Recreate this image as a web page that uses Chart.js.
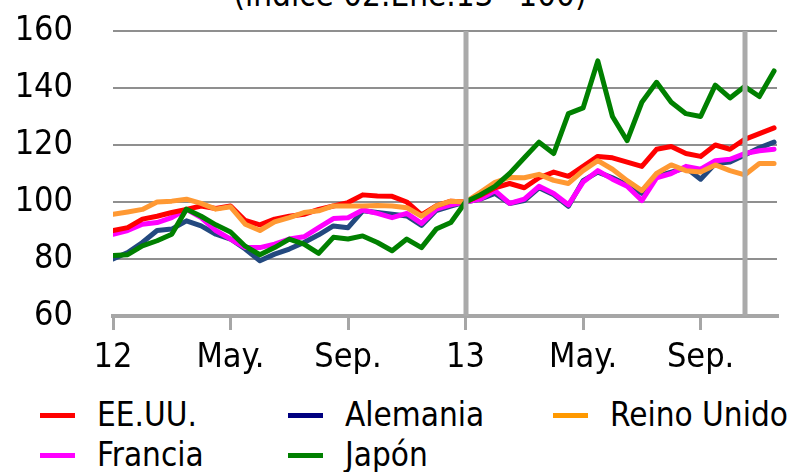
<!DOCTYPE html>
<html>
<head>
<meta charset="utf-8">
<script src="https://cdn.jsdelivr.net/npm/chart.js@4"></script>
<style>
  body { margin: 0; background: #fff; width: 797px; height: 472px; overflow: hidden; position: relative; font-family: "DejaVu Sans Condensed", "DejaVu Sans", sans-serif; color: #000; }
  #title { position: absolute; left: 0; width: 820px; top: -20px; text-align: center; font-size: 33px; line-height: 30px; white-space: nowrap; }
  #wrap { position: absolute; left: 0; top: 0; width: 797px; height: 395px; }
  #legend { position: absolute; left: 40px; top: 395px; display: grid; grid-template-columns: 248px 265px 260px; font-size: 33px; line-height: 40px; }
  .item { display: flex; align-items: center; white-space: nowrap; }
  .sw { width: 35px; height: 5px; margin-right: 22px; }
</style>
</head>
<body>
<div id="title">(índice 02.Ene.13=100)</div>
<div id="wrap"><canvas id="myChart" width="797" height="395"></canvas></div>
<div id="legend"></div>
<script>
// meses desde ene-2012 (0 = ene-12, 12 = ene-13)
const months = [0, 0.5, 1, 1.5, 2, 2.5, 3, 3.5, 4, 4.5, 5, 5.5, 6, 6.5, 7, 7.5, 8, 8.5, 9, 9.5, 10, 10.5, 11, 11.5,
                12, 12.5, 13, 13.5, 14, 14.5, 15, 15.5, 16, 16.5, 17, 17.5, 18, 18.5, 19, 19.5, 20, 20.5, 21, 21.5, 22, 22.5];

const eeuu = [90, 91, 94, 95, 96.3, 97.4, 98.6, 97.7, 98.6, 93.5, 92, 94, 95, 95.7, 97.4, 98.6, 99.8, 102.5, 102.1, 102, 100, 95.5, 98.6, 100.3,
              100, 102.3, 105, 106.5, 105, 108.5, 110.5, 109, 112.5, 116, 115.5, 114, 112.5, 118.5, 119.5, 117, 116, 120, 118.5, 122, 124, 126];
const alemania = [80, 82.3, 85.8, 90, 90.5, 93.4, 91.6, 88.7, 87, 83.5, 79.4, 81.7, 83.5, 85.8, 88.5, 91.6, 91, 96.9, 96.3, 95.7, 95.1, 91.8, 97, 98.6,
                  100, 101, 103, 99.5, 100.5, 105, 102.5, 98.5, 107.5, 110.5, 108.5, 106, 103, 109, 110.5, 112, 108, 113.5, 114, 116.5, 119, 121];
const reinoUnido = [95.7, 96.5, 97.4, 100, 100.3, 101, 99.5, 97.5, 98.3, 92.2, 90, 93, 94.5, 96.3, 96.9, 98.6, 98.6, 98.6, 98.8, 98.6, 98, 95, 98.6, 100.3,
                    100, 103.4, 106.9, 108.6, 108.5, 109.7, 107.6, 106.5, 111, 114.5, 111.5, 107.5, 104, 110, 113, 111, 110.5, 113, 111, 109.5, 113.5, 113.5];
const francia = [88.7, 90, 92.2, 92.8, 94.5, 97.4, 94.5, 90, 87, 84, 84, 85.2, 87, 87.8, 91, 94.2, 94.5, 97.2, 96, 94.5, 96, 92.5, 97.5, 99,
                 100, 101, 104, 99.5, 101, 105.5, 103, 99, 107, 111, 108, 105.5, 100.5, 108.5, 110, 112.5, 111.5, 114.5, 115, 117, 118, 118.5];
const japon = [81.2, 81.5, 84.6, 86.4, 88.7, 97.5, 95, 92, 89.5, 84.5, 81.5, 84, 87, 85.2, 82, 87.6, 87, 88.1, 85.8, 82.9, 87, 84, 90.5, 92.8,
               100, 102.5, 105.5, 110, 115.5, 121, 117, 131, 133, 149.5, 130, 121.5, 135, 142, 135, 131, 130, 141, 136.5, 140.5, 137, 146];

const seriesNames = ['EE.UU.', 'Alemania', 'Reino Unido', 'Francia', 'Japón'];
const seriesData = [eeuu, alemania, reinoUnido, francia, japon];
const lineColors = ['#ff0000', '#23497f', '#ff9933', '#ff00ff', '#008000'];
const legendColors = ['#ff0000', '#000080', '#ff9900', '#ff00ff', '#008000'];
// orden de dibujo: el menor queda encima
const drawOrder = [3, 5, 2, 4, 1];

const tickMonths = [0, 4, 8, 12, 16, 20];
const tickLabels = ['12', 'May.', 'Sep.', '13', 'May.', 'Sep.'];
const markerMonths = [12, 21.5];

const markerLines = {
    id: 'markerLines',
    afterDatasetsDraw(chart) {
        const { ctx, chartArea, scales: { x } } = chart;
        ctx.save();
        ctx.strokeStyle = '#aaaaaa';
        ctx.lineWidth = 5;
        markerMonths.forEach(m => {
            const px = Math.round(x.getPixelForValue(m));
            ctx.beginPath();
            ctx.moveTo(px, chartArea.top);
            ctx.lineTo(px, chartArea.bottom);
            ctx.stroke();
        });
        ctx.restore();
    }
};

const datasets = seriesNames.map((name, i) => ({
    label: name,
    data: months.map((m, j) => ({ x: m, y: seriesData[i][j] })),
    borderColor: lineColors[i],
    backgroundColor: lineColors[i],
    borderWidth: 5,
    pointRadius: 0,
    tension: 0,
    borderJoinStyle: 'round',
    borderCapStyle: 'round',
    order: drawOrder[i]
}));

const tickFont = { family: '"DejaVu Sans Condensed", "DejaVu Sans", sans-serif', size: 34 };

const ctx = document.getElementById('myChart').getContext('2d');
const myChart = new Chart(ctx, {
    type: 'line',
    data: { datasets: datasets },
    options: {
        responsive: false,
        animation: false,
        devicePixelRatio: 1,
        layout: { padding: { left: 0, right: 20, top: 31, bottom: 0 } },
        plugins: {
            legend: { display: false },
            tooltip: { enabled: false },
            title: { display: false }
        },
        scales: {
            x: {
                type: 'linear',
                min: 0,
                max: 22.6,
                afterBuildTicks: s => { s.ticks = tickMonths.map(v => ({ value: v })); },
                afterFit: s => { s.height = 79; },
                ticks: {
                    autoSkip: false,
                    maxRotation: 0,
                    padding: 8,
                    color: '#000',
                    font: tickFont,
                    callback: v => tickLabels[tickMonths.indexOf(v)]
                },
                grid: {
                    drawOnChartArea: false,
                    drawTicks: true,
                    tickLength: 14,
                    color: '#a6a6a6',
                    lineWidth: 3
                },
                border: { display: true, color: '#a6a6a6', width: 4 }
            },
            y: {
                min: 60,
                max: 160,
                afterFit: s => { s.width = 113; s.paddingTop = 0; s.paddingBottom = 0; },
                ticks: {
                    stepSize: 20,
                    padding: 40,
                    color: '#000',
                    font: tickFont
                },
                grid: {
                    drawTicks: false,
                    lineWidth: 2,
                    color: c => c.tick && c.tick.value === 60 ? 'rgba(0,0,0,0)' : '#8f8f8f'
                },
                border: { display: false }
            }
        }
    },
    plugins: [markerLines]
});

// leyenda en rejilla de 3 columnas
const legend = document.getElementById('legend');
seriesNames.forEach((name, i) => {
    const item = document.createElement('div');
    item.className = 'item';
    const sw = document.createElement('span');
    sw.className = 'sw';
    sw.style.background = legendColors[i];
    const txt = document.createElement('span');
    txt.textContent = name;
    item.appendChild(sw);
    item.appendChild(txt);
    legend.appendChild(item);
});
</script>
</body>
</html>
